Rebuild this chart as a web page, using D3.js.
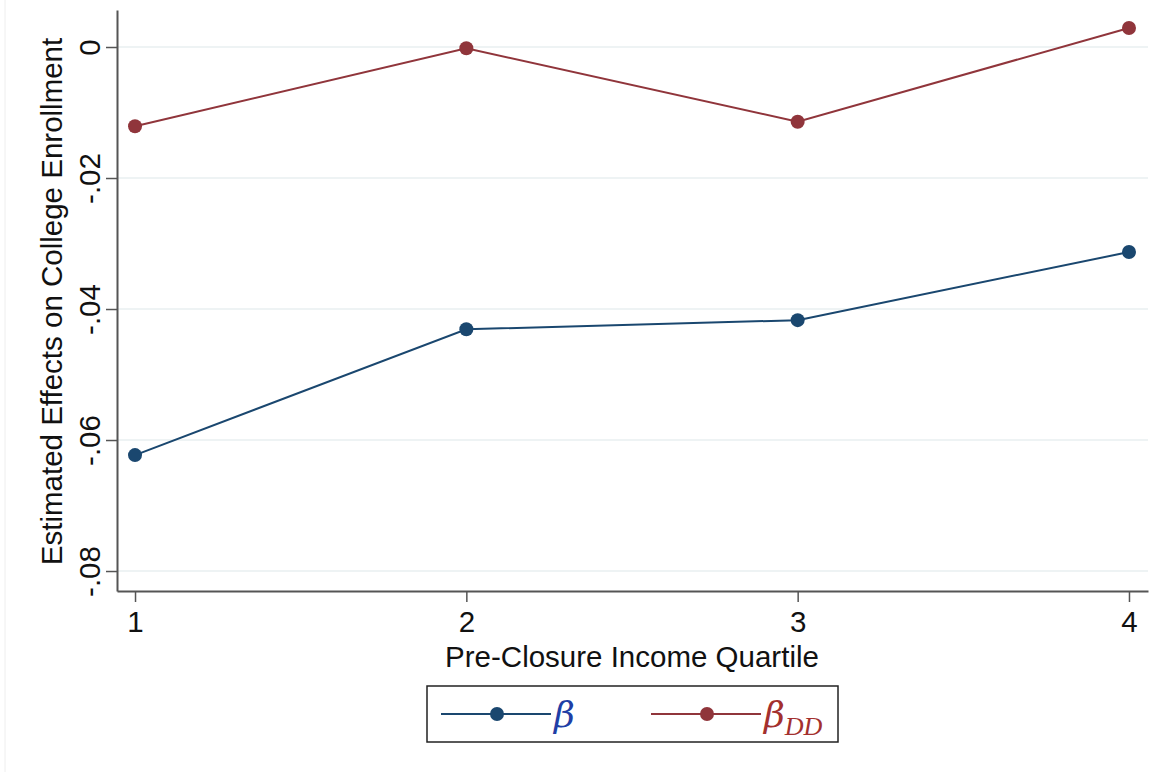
<!DOCTYPE html>
<html>
<head>
<meta charset="utf-8">
<script src="https://cdn.jsdelivr.net/npm/d3@7"></script>
<style>
  body { margin: 0; background: #fff; }
  svg { display: block; }
</style>
</head>
<body>
<svg id="chart" width="1167" height="772"></svg>
<script>
const w = 1167;
const h = 772;

// data
const quartiles = [1, 2, 3, 4];
const beta = [-0.0623, -0.0431, -0.0417, -0.0313];
const betaDD = [-0.0121, -0.0002, -0.0114, 0.0029];
const yTicks = [0, -0.02, -0.04, -0.06, -0.08];
const yTickLabels = ["0", "-.02", "-.04", "-.06", "-.08"];

const col = {
  blue: "#1a476f",
  red: "#90353b",
  axis: "#555555",
  grid: "#e9eff1",
  legBlue: "#1f3fa6",
  legRed: "#a3302e"
}

const font = "'Liberation Sans', Arial, Helvetica, sans-serif";
const fsize = "29.5px";

const plot = { l: 117, r: 1148, t: 10, b: 591 };

const x = d3.scaleLinear().domain([0.9456, 4.0574]).range([plot.l, plot.r]);
const y = d3.scaleLinear().domain([-0.08305, 0.00565]).range([plot.b, plot.t]);

const svg = d3.select("#chart");

// faint image border on the left
svg.append("line")
  .attr("x1", 5).attr("x2", 5).attr("y1", 0).attr("y2", h)
  .attr("stroke", "#eeeeee").attr("stroke-width", 1);

// gridlines
svg.append("g").selectAll("line")
  .data(yTicks)
  .join("line")
  .attr("x1", plot.l).attr("x2", plot.r)
  .attr("y1", d => y(d)).attr("y2", d => y(d))
  .attr("stroke", col.grid).attr("stroke-width", 1.5);

// y axis
const yAxis = svg.append("g")
  .attr("transform", `translate(${plot.l},0)`)
  .call(d3.axisLeft(y).tickValues(yTicks).tickSizeInner(11).tickSizeOuter(0)
    .tickFormat((d, i) => yTickLabels[i]));
yAxis.select(".domain").attr("stroke", col.axis).attr("stroke-width", 2);
yAxis.selectAll(".tick line").attr("stroke", col.axis).attr("stroke-width", 1.5);
yAxis.selectAll(".tick text").remove();
yAxis.selectAll(".tick").append("text")
  .attr("transform", "translate(-17,0) rotate(-90)")
  .attr("text-anchor", "middle")
  .attr("fill", "#111")
  .style("font-family", font)
  .style("font-size", fsize)
  .text((d, i) => yTickLabels[i]);

// x axis
const xAxis = svg.append("g")
  .attr("transform", `translate(0,${plot.b})`)
  .call(d3.axisBottom(x).tickValues(quartiles).tickSizeInner(11).tickSizeOuter(0)
    .tickFormat(d3.format("d")));
xAxis.select(".domain").attr("stroke", col.axis).attr("stroke-width", 2);
xAxis.selectAll(".tick line").attr("stroke", col.axis).attr("stroke-width", 1.5);
xAxis.selectAll(".tick text")
  .attr("y", 632 - plot.b)
  .attr("dy", null)
  .attr("fill", "#111")
  .style("font-family", font)
  .style("font-size", fsize);

// axis titles
svg.append("text")
  .attr("transform", `translate(62,${(plot.t + plot.b) / 2 + 1}) rotate(-90)`)
  .attr("text-anchor", "middle")
  .attr("fill", "#111")
  .style("font-family", font)
  .style("font-size", fsize)
  .text("Estimated Effects on College Enrollment");

svg.append("text")
  .attr("x", 632)
  .attr("y", 667)
  .attr("text-anchor", "middle")
  .attr("fill", "#111")
  .style("font-family", font)
  .style("font-size", fsize)
  .text("Pre-Closure Income Quartile");

// series
const line = d3.line().x((d, i) => x(quartiles[i])).y(d => y(d));

function series(vals, c) {
  const g = svg.append("g");
  g.append("path")
    .attr("d", line(vals))
    .attr("fill", "none")
    .attr("stroke", c)
    .attr("stroke-width", 2);
  g.selectAll("circle")
    .data(vals)
    .join("circle")
    .attr("cx", (d, i) => x(quartiles[i]))
    .attr("cy", d => y(d))
    .attr("r", 7)
    .attr("fill", c);
}
series(beta, col.blue);
series(betaDD, col.red);

// legend
const leg = svg.append("g");
leg.append("rect")
  .attr("x", 427).attr("y", 686).attr("width", 411).attr("height", 56)
  .attr("fill", "#fff").attr("stroke", "#222").attr("stroke-width", 1.5);

function legItem(x0, c, tc, label, sub) {
  leg.append("line")
    .attr("x1", x0).attr("x2", x0 + 110).attr("y1", 714).attr("y2", 714)
    .attr("stroke", c).attr("stroke-width", 2);
  leg.append("circle")
    .attr("cx", x0 + 56).attr("cy", 714).attr("r", 7).attr("fill", c);
  const t = leg.append("text")
    .attr("x", x0 + 113).attr("y", 727)
    .attr("fill", tc)
    .style("font-family", "'DejaVu Serif', 'Liberation Serif', serif")
    .style("font-style", "italic")
    .style("font-size", "36px")
    .text(label);
  if (sub) {
    t.append("tspan")
      .attr("dy", 8)
      .style("font-family", "'Liberation Serif', serif")
      .style("font-size", "26px")
      .text(sub);
  }
}
legItem(441, col.blue, col.legBlue, "β", null);
legItem(651, col.red, col.legRed, "β", "DD");
</script>
</body>
</html>
